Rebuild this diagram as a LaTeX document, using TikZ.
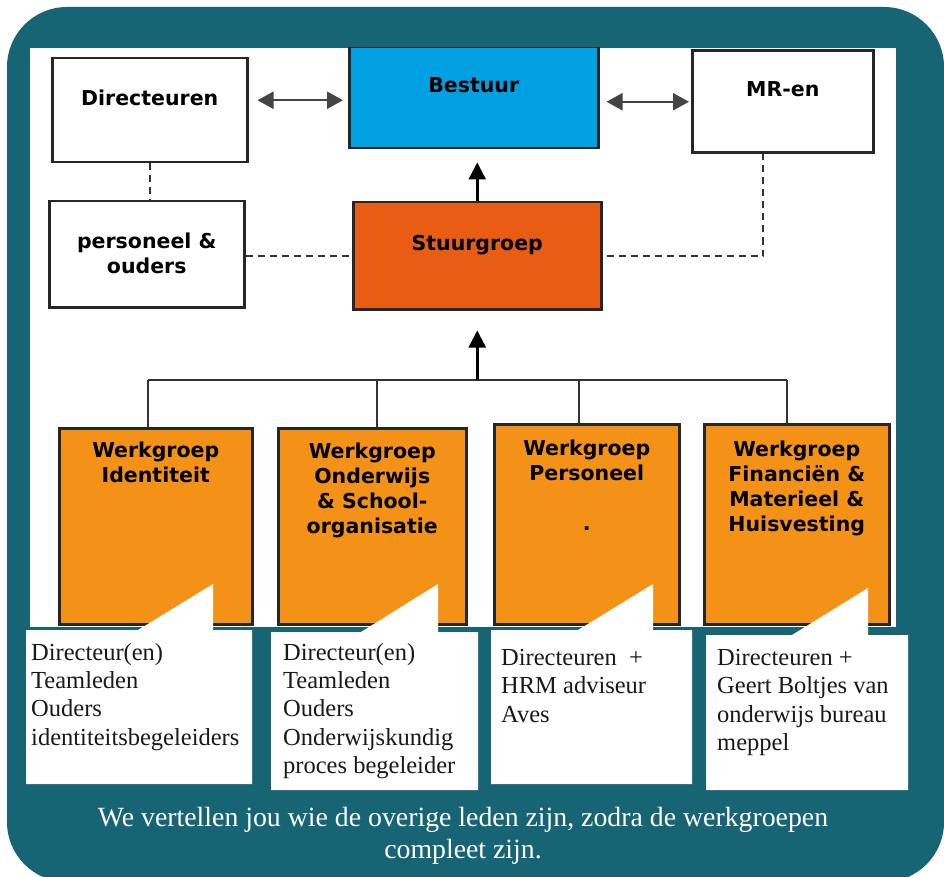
\documentclass[tikz,border=0pt]{standalone}
\usepackage{fontspec}
\setmainfont{Liberation Serif}
\newfontfamily\kopfont{DejaVu Sans}
\usetikzlibrary{arrows.meta}
\usetikzlibrary{positioning}

\definecolor{petrol}{RGB}{22,100,116}
\definecolor{bestuurblauw}{RGB}{0,160,227}
\definecolor{stuuroranje}{RGB}{232,92,20}
\definecolor{werkoranje}{RGB}{243,146,22}
\definecolor{lijngrijs}{RGB}{68,68,68}

\begin{document}
\begin{tikzpicture}[x=1pt,y=-1pt,
  vak/.style={draw=black!85,line width=2.5pt,anchor=north west,inner sep=0pt},
  kop/.style={font=\kopfont\bfseries\fontsize{20.5}{25}\selectfont,align=center,inner sep=0pt},
  ballon/.style={font=\fontsize{24.5}{28.3}\selectfont,text=black!90,align=left,anchor=north west,inner sep=0pt},
  dubbel/.style={{Triangle[width=17pt,length=16pt]}-{Triangle[width=17pt,length=16pt]},draw=lijngrijs,line width=2.2pt},
  pijl/.style={-{Triangle[width=17pt,length=17pt]},line width=2.5pt},
  stippel/.style={draw=black!80,line width=2.4pt,dash pattern=on 7pt off 5pt},
  tak/.style={draw=black!80,line width=2.5pt}]
\useasboundingbox (0,0) rectangle (944,877);
\clip (0,0) rectangle (944,877);
\fill[white] (0,0) rectangle (944,877);
\fill[petrol,rounded corners=60pt] (7,7) rectangle (944,882);
\fill[white] (30,48) rectangle (896,627);

\begin{scope}
\clip (30,48) rectangle (896,627);
% bovenste laag
\node[vak,minimum width=195pt,minimum height=104pt] (dir) at (51,57) {};
\node[vak,fill=bestuurblauw,minimum width=249pt,minimum height=101pt] (bestuur) at (348,46) {};
\node[vak,minimum width=181pt,minimum height=102pt] (mr) at (691,49.5) {};
\node[vak,minimum width=195pt,minimum height=106pt] (pers) at (48,200) {};
\node[vak,fill=stuuroranje,minimum width=248pt,minimum height=107pt] (stuur) at (352,201) {};

\node[kop,below=33pt of dir.north] (dirT) {Directeuren};
\node[kop,below=31pt of bestuur.north] (bestuurT) {Bestuur};
\node[kop,below=32pt of mr.north] (mrT) {MR-en};
\node[kop,below=33pt of pers.north] (persT) {personeel \&\\ouders};
\node[kop,below=34pt of stuur.north] (stuurT) {Stuurgroep};

\draw[dubbel,shorten <=9pt,shorten >=5pt] ([yshift=10pt]dir.east) -- ([yshift=10pt]dir.east -| bestuur.west);
\draw[dubbel,shorten <=7pt,shorten >=2pt] (bestuur.east |- mr.west) -- (mr.west);
\draw[stippel] (dir.south) -- (dir.south |- pers.north);
\draw[stippel] (stuur.west -| pers.east) -- (stuur.west);
\coordinate (mrknik) at ([xshift=-19.5pt]mr.south);
\draw[stippel,shorten <=4pt] (stuur.east) -| (mrknik);
\draw[pijl,shorten >=13pt] (stuur.north) -- (stuur.north |- bestuur.south);

% werkgroepen
\node[vak,fill=werkoranje,minimum width=193pt,minimum height=196pt] (wg1) at (58,427) {};
\node[vak,fill=werkoranje,minimum width=188pt,minimum height=196pt] (wg2) at (277,427) {};
\node[vak,fill=werkoranje,minimum width=185pt,minimum height=200pt] (wg3) at (493,423) {};
\node[vak,fill=werkoranje,minimum width=185pt,minimum height=200pt] (wg4) at (703,423) {};

\node[kop,below=15pt of wg1.north] (wg1T) {Werkgroep\\Identiteit};
\node[kop,below=16pt of wg2.north] (wg2T) {Werkgroep\\Onderwijs\\\& School-\\organisatie};
\node[kop,below=17pt of wg3.north] (wg3T) {Werkgroep\\Personeel\\[25pt].};
\node[kop,below=17.5pt of wg4.north] (wg4T) {Werkgroep\\Financiën \&\\Materieel \&\\Huisvesting};

\coordinate (t1) at (148,380);
\coordinate (t2) at (377,380);
\coordinate (t3) at (579,380);
\coordinate (t4) at (787,380);
\coordinate (stam) at (stuur.south |- t1);
\draw[tak] (t1) -- (t4);
\foreach \i in {1,...,4}
  \draw[tak] (t\i) -- (t\i |- wg\i.north);
\draw[pijl,shorten >=20pt] (stam) -- (stuur.south);
\end{scope}

% tekstballonnen
\fill[white] (26,630) -- (138,630) -- (213,584) -- (213,630) -- (252,630) -- (252,784) -- (26,784) -- cycle;
\fill[white] (271,632) -- (361,632) -- (438,584) -- (438,632) -- (478,632) -- (478,790) -- (271,790) -- cycle;
\fill[white] (491,630) -- (578,630) -- (653,584) -- (653,630) -- (692,630) -- (692,784) -- (491,784) -- cycle;
\fill[white] (706,635) -- (792,635) -- (868,588) -- (868,635) -- (908,635) -- (908,790) -- (706,790) -- cycle;

\node[ballon] (b1) at (31,643) {Directeur(en)\\Teamleden\\Ouders\\identiteitsbegeleiders};
\node[ballon] (b2) at (283,643) {Directeur(en)\\Teamleden\\Ouders\\Onderwijskundig\\proces begeleider};
\node[ballon] (b3) at (501,649) {Directeuren~ +\\HRM adviseur\\Aves};
\node[ballon] (b4) at (717,649) {Directeuren +\\Geert Boltjes van\\onderwijs bureau\\meppel};

\node[font=\fontsize{27.8}{32}\selectfont,text=white,align=center,inner sep=0pt] (voet) at (463,836)
  {We vertellen jou wie de overige leden zijn, zodra de werkgroepen\\compleet zijn.};
\end{tikzpicture}
\end{document}
